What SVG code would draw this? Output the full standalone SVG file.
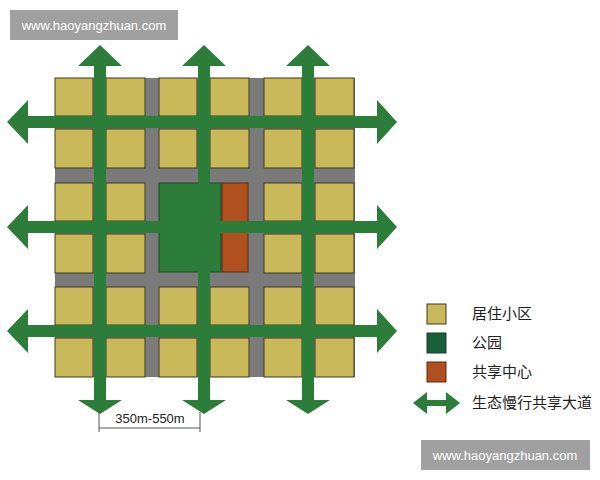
<svg xmlns="http://www.w3.org/2000/svg" width="600" height="480" viewBox="0 0 600 480">
<style>
.y{fill:#c9b95b;stroke:#3a3a20;stroke-width:1}
.r{fill:#2c7d3a}
.t{font-family:"Liberation Sans","Noto Sans CJK SC",sans-serif;font-size:15px;fill:#222}
.w{font-family:"Liberation Sans",sans-serif;font-size:13px;fill:#fff}
</style>
<defs>
<g id="sb"><rect class="y" x="0" y="0" width="38" height="38"/><rect class="y" x="51" y="0" width="39" height="38"/><rect class="y" x="0" y="51" width="38" height="39"/><rect class="y" x="51" y="51" width="39" height="39"/></g>
</defs>
<rect width="600" height="480" fill="#fff"/>
<rect x="10" y="10" width="168" height="30" fill="#a0a0a0"/>
<text class="w" x="94" y="30" text-anchor="middle">www.haoyangzhuan.com</text>
<rect x="421" y="440" width="169" height="30" fill="#a0a0a0"/>
<text class="w" x="505" y="460" text-anchor="middle">www.haoyangzhuan.com</text>
<g id="grid">
<rect x="55" y="78" width="300" height="299" fill="#7a7a7a"/>
<use href="#sb" x="55" y="78"/><use href="#sb" x="159" y="78"/><use href="#sb" x="264" y="78"/>
<use href="#sb" x="55" y="183"/><use href="#sb" x="264" y="183"/>
<use href="#sb" x="55" y="287"/><use href="#sb" x="159" y="287"/><use href="#sb" x="264" y="287"/>
<rect id="park" x="159" y="183" width="62" height="89" fill="#2c7d3a" stroke="#1f4a2a"/>
<rect id="center" x="222" y="183" width="26" height="89" fill="#b0501e" stroke="#5a2a10"/>
</g>
<g id="connectors" class="r">
<path d="M94 66V400h-16l22 14 22-14h-16V66h16l-22-21-22 21z"/>
<path d="M198 66V400h-16l22 14 22-14h-16V66h16l-22-21-22 21z"/>
<path d="M302 400h-16l22 14 22-14h-16V66h16l-22-21-22 21h16z"/>
<path d="M28 116H377v-16l20 22-20 22v-16H28v16L7 122l21-22z"/>
<path d="M28 221H377v-16l20 22-20 22v-16H28v16L7 227l21-22z"/>
<path d="M28 325H377v-16l20 22-20 22v-16H28v16L7 331l21-22z"/>
</g>
<g id="dim" stroke="#555" stroke-width="1">
<line x1="99" y1="412" x2="99" y2="432"/><line x1="200" y1="412" x2="200" y2="432"/><line x1="99" y1="428" x2="200" y2="428"/>
</g>
<text x="150" y="423" text-anchor="middle" font-family="Liberation Sans,sans-serif" font-size="13" fill="#222">350m-550m</text>
<g id="legend">
<rect class="y" x="427" y="304" width="19" height="20"/>
<rect x="427" y="333" width="19" height="20" fill="#19603a" stroke="#1f3a2a"/>
<rect x="427" y="362" width="19" height="20" fill="#b0501e" stroke="#5a2a10"/>
<path class="r" d="M427 400h19v-8l14 11-14 11v-8h-19v8l-14-11 14-11z"/>
<text class="t" x="472" y="319">居住小区</text>
<text class="t" x="472" y="348">公园</text>
<text class="t" x="472" y="377">共享中心</text>
<text class="t" x="472" y="408">生态慢行共享大道</text>
</g>
</svg>
